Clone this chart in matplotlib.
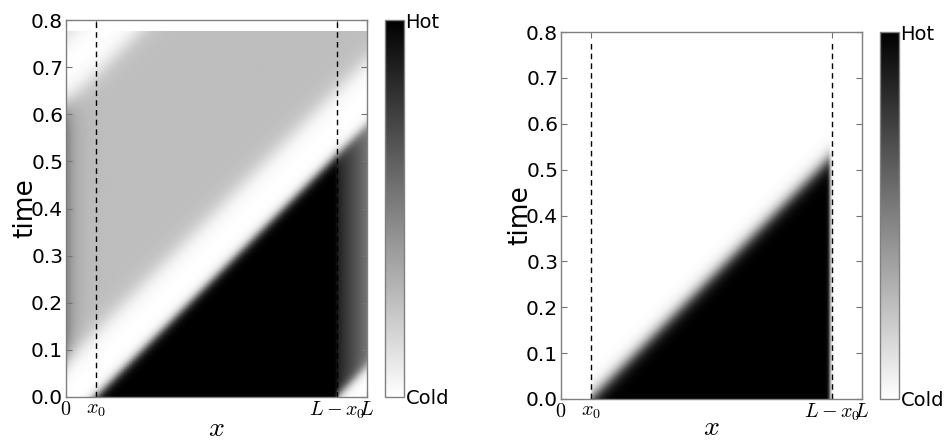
import numpy as np
import matplotlib
matplotlib.use("Agg")
import matplotlib.pyplot as plt

plt.rcParams['mathtext.fontset'] = 'cm'
plt.rcParams['font.family'] = ['DejaVu Sans']

# ---- values ----
L = 1.0
x0 = 0.1
t_max = 0.776                  # top of the simulated time range
front_slope = 0.64             # time per unit x of the travelling front (left)
front_slope_right = 0.66       # same for the right panel
band_width = 0.14              # width (in time) of the cold band behind the front
second_band_start = 0.62       # time at x=0 of the second cold band (left panel)
levels_hot = 1.0
level_gray = 0.255             # plateau behind the band
level_edge = 0.25              # extra darkening at x=0
edge_width = 0.028             # width of the darkened zone at x=0
level_corner = 0.15            # light region above second band
strip_hot = [0.88, 0.55]       # hot strip value at L-x0 and at L
xtick_pos = [0.0, x0, L - x0, L]
xtick_lab = ['$0$', '$x_0$', '$L-x_0$', '$L$']
ytick_pos = [0.0, 0.1, 0.2, 0.3, 0.4, 0.5, 0.6, 0.7, 0.8]
cbar_lab = ['Cold', 'Hot']


def sig(z, s):
    return 1.0 / (1.0 + np.exp(-np.clip(z / s, -60, 60)))


nx, nt = 500, 500
xs = np.linspace(0, L, nx)
ts = np.linspace(0, t_max, nt)
X, T = np.meshgrid(xs, ts)

tf = front_slope * (X - x0)
tf2 = front_slope * (X - (L - x0))
s1, s2 = 0.008, 0.016

# left panel field
below = 1 - sig(T - tf, s1)
m = sig(X - (L - x0), 0.003)
h = strip_hot[0] + (strip_hot[1] - strip_hot[0]) * (X - (L - x0)) / x0
g = level_gray + level_edge * np.exp(-X / edge_width)
above_band = sig(T - (tf + band_width), s2)
P = second_band_start + front_slope * x0
second_low = sig(T - (tf + P), s2)
second_high = sig(T - (tf + P + band_width), s2)
field1 = (1 - m) * levels_hot * below + m * h * below * sig(T - tf2, s1) \
    + g * (above_band - second_low) + level_corner * second_high

# right panel field
tfr = front_slope_right * (X - x0)
mr = sig(X - (L - x0 - 0.006), 0.003)
ml = sig(X - x0, 0.002)
field2 = levels_hot * (1 - sig(T - tfr, 0.012)) * (1 - mr) * ml

fig = plt.figure(figsize=(9.44, 4.41), dpi=100)
W, H = 944.0, 441.0


def rect(l, r, t, b):
    return [l / W, 1 - b / H, (r - l) / W, (b - t) / H]


panels = [
    (field1, rect(66, 367, 20, 397), rect(385, 404, 20, 397), True, -5),
    (field2, rect(561, 862, 32, 399), rect(880, 899, 32, 399), False, -7),
]

for field, ar, cr, full_lines, xpad in panels:
    ax = fig.add_axes(ar)
    im = ax.imshow(field, extent=[0, L, 0, t_max], origin='lower', aspect='auto',
                   cmap='gray_r', vmin=0, vmax=1, interpolation='bilinear')
    ax.set_xlim(0, L)
    ax.set_ylim(0, 0.8)
    if full_lines:
        for xv in [x0, L - x0]:
            ax.axvline(xv, color='black', lw=1, ls=(0, (4, 3)))
    else:
        ax.vlines([x0, L - x0], 0, t_max, color='black', lw=1, linestyles=[(0, (4, 3))])
    ax.set_xticks(xtick_pos)
    ax.set_xticklabels(xtick_lab, fontsize=14.5)
    ax.set_yticks(ytick_pos)
    ax.set_yticklabels(['%.1f' % v for v in ytick_pos], fontsize=14.5)
    ax.tick_params(direction='in', length=4.5, width=0.8, color='0.45',
                   top=True, right=True, pad=2)
    ax.tick_params(axis='x', pad=2)
    for sp in ax.spines.values():
        sp.set_color('0.5')
        sp.set_linewidth(1.0)
    ax.set_xlabel('$x$', fontsize=20, labelpad=xpad)
    ax.set_ylabel('time', fontsize=19, labelpad=-5)

    cax = fig.add_axes(cr)
    cb = fig.colorbar(im, cax=cax, ticks=[0, 1])
    cb.ax.set_yticklabels(cbar_lab, fontsize=14)
    cb.ax.tick_params(length=0, pad=1)
    cb.outline.set_edgecolor('0.5')
    cb.outline.set_linewidth(1.0)

fig.savefig('out.png', dpi=100)
